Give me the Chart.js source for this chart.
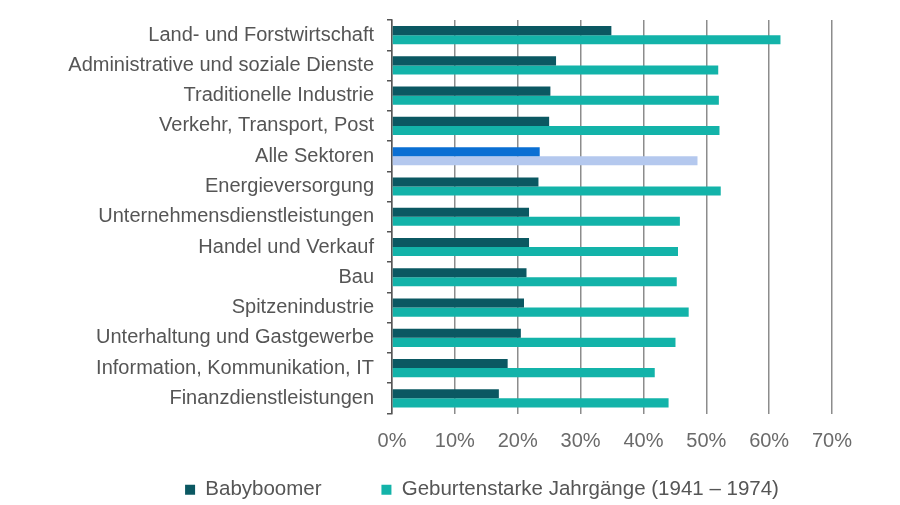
<!DOCTYPE html>
<html>
<head>
<meta charset="utf-8">
<script src="https://cdn.jsdelivr.net/npm/chart.js@4"></script>
<style>
  body { margin: 0; background: #fff; }
  #wrap { width: 900px; height: 505px; }
</style>
</head>
<body>
<div id="wrap"><canvas id="mychart" width="900" height="505"></canvas></div>
<script>
const categories = [
    'Land- und Forstwirtschaft',
    'Administrative und soziale Dienste',
    'Traditionelle Industrie',
    'Verkehr, Transport, Post',
    'Alle Sektoren',
    'Energieversorgung',
    'Unternehmensdienstleistungen',
    'Handel und Verkauf',
    'Bau',
    'Spitzenindustrie',
    'Unterhaltung und Gastgewerbe',
    'Information, Kommunikation, IT',
    'Finanzdienstleistungen'
]
const babyboomer = [34.9, 26.1, 25.2, 25.0, 23.5, 23.3, 21.8, 21.8, 21.4, 21.0, 20.5, 18.4, 17.0]
const geburtenstark = [61.8, 51.9, 52.0, 52.1, 48.6, 52.3, 45.8, 45.5, 45.3, 47.2, 45.1, 41.8, 44.0]
const seriesNames = ['Babyboomer', 'Geburtenstarke Jahrgänge (1941 – 1974)']
const xTicks = [0, 10, 20, 30, 40, 50, 60, 70]

const highlight = 4  // Alle Sektoren
const font = "'Liberation Sans', Arial, sans-serif"

function colorFor(normal, special) {
    return function (ctx) {
        return ctx.dataIndex === highlight ? special : normal
    }
}

// legende etwas nach rechts / unten schieben wie im original
const shiftLegend = {
    id: 'shiftLegend',
    afterLayout(chart) {
        const lg = chart.legend
        lg.left += 66
        lg.right += 66
        lg.top += 5
        lg.bottom += 5
    }
}

const ctx = document.getElementById('mychart')

new Chart(ctx, {
    type: 'bar',
    data: {
        labels: categories,
        datasets: [
            {
                label: seriesNames[0],
                data: babyboomer,
                backgroundColor: colorFor('#0b5862', '#0a6fd3')
            },
            {
                label: seriesNames[1],
                data: geburtenstark,
                backgroundColor: colorFor('#13b3a9', '#b4c8ee')
            }
        ]
    },
    plugins: [shiftLegend],
    options: {
        indexAxis: 'y',
        responsive: false,
        animation: false,
        categoryPercentage: 0.6,
        barPercentage: 1.0,
        layout: {
            padding: { top: 20, right: 68, bottom: 0, left: 0 }
        },
        scales: {
            x: {
                min: 0,
                max: 70,
                afterBuildTicks: function (scale) {
                    scale.ticks = xTicks.map(v => ({ value: v }))
                },
                afterFit: function (scale) {
                    scale.height = 41
                },
                grid: {
                    color: '#8c8c8c',
                    lineWidth: 1.5,
                    drawTicks: false
                },
                border: { display: false },
                ticks: {
                    padding: 16,
                    color: '#6a6a6a',
                    font: { family: font, size: 20 },
                    callback: v => v + '%'
                }
            },
            y: {
                afterFit: function (scale) {
                    scale.width = 392
                    scale.paddingTop = 0
                    scale.paddingBottom = 0
                },
                grid: {
                    drawOnChartArea: false,
                    drawTicks: true,
                    tickLength: 5,
                    color: '#555',
                    lineWidth: 1.5
                },
                border: { display: true, color: '#555', width: 1.5 },
                ticks: {
                    padding: 13,
                    color: '#555',
                    font: { family: font, size: 20 }
                }
            }
        },
        plugins: {
            tooltip: { enabled: false },
            legend: {
                position: 'bottom',
                labels: {
                    boxWidth: 10,
                    boxHeight: 10,
                    padding: 20,
                    color: '#555',
                    font: { family: font, size: 20.5 },
                    generateLabels: function (chart) {
                        const items = Chart.defaults.plugins.legend.labels.generateLabels(chart)
                        // mehr abstand nach dem ersten eintrag
                        items[0].text = items[0].text + '       '
                        return items
                    }
                }
            }
        }
    }
})
</script>
</body>
</html>
